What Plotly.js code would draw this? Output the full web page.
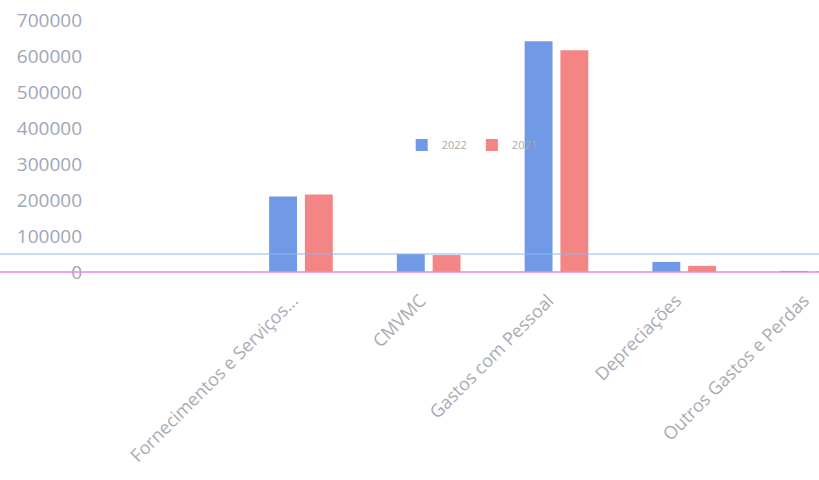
<!DOCTYPE html>
<html>
<head>
<meta charset="utf-8">
<script src="https://cdn.plot.ly/plotly-3.0.1.min.js"></script>
<style>html,body{margin:0;padding:0;background:#fff;}#chart{width:819px;height:480px;}</style>
</head>
<body>
<div id="chart"></div>
<script>
const categories = ["Fornecimentos e Serviços...", "CMVMC", "Gastos com Pessoal", "Depreciações", "Outros Gastos e Perdas"];
const series2022 = [210000, 50000, 641000, 28000, 3000];
const series2021 = [215000, 47000, 616000, 17000, 2000];
const seriesNames = ["2022", "2021"];
const yTicks = [0, 100000, 200000, 300000, 400000, 500000, 600000, 700000];
const refLineValue = 50000;

const traces = [
  {type: 'bar', name: seriesNames[0], x: categories, y: series2022, marker: {color: '#7099e6'}},
  {type: 'bar', name: seriesNames[1], x: categories, y: series2021, marker: {color: '#f48585'}}
];

const layout = {
  width: 819, height: 480,
  margin: {l: 83, r: 0, t: 20, b: 208},
  paper_bgcolor: '#ffffff', plot_bgcolor: '#ffffff',
  barmode: 'group', bargap: 0.44, bargroupgap: 0.22,
  font: {family: '"Open Sans", sans-serif', color: '#a0a7b6'},
  xaxis: {
    type: 'category', categoryorder: 'array', categoryarray: categories,
    range: [-1.706, 4.055], tickangle: -45,
    tickfont: {size: 18, color: '#ababb3', family: '"Open Sans", sans-serif'},
    ticks: 'outside', ticklen: 10, tickcolor: 'rgba(0,0,0,0)',
    ticklabelshift: -8,
    showgrid: false, zeroline: false, showline: false
  },
  yaxis: {
    range: [0, 700000], tickvals: yTicks, ticktext: yTicks.map(String),
    tickfont: {size: 19, color: '#9fa6b8', family: '"Open Sans", sans-serif'},
    showgrid: false, zeroline: false, showline: false, ticks: ''
  },
  legend: {
    orientation: 'h', x: 0.433, y: 0.504, xanchor: 'left', yanchor: 'middle',
    font: {size: 11, color: '#a8a8b0'}, bgcolor: 'rgba(0,0,0,0)', itemwidth: 30
  },
  shapes: [
    {type: 'line', xref: 'paper', yref: 'y', x0: -0.2, x1: 1.0, y0: refLineValue, y1: refLineValue,
     line: {color: '#8ab8ec', width: 1}},
    {type: 'line', xref: 'paper', yref: 'paper', x0: -0.2, x1: 1.0, y0: 0, y1: 0,
     line: {color: '#e08ae6', width: 1.5}}
  ],
  showlegend: true
};

Plotly.newPlot('chart', traces, layout, {displayModeBar: false, staticPlot: true});
</script>
</body>
</html>
